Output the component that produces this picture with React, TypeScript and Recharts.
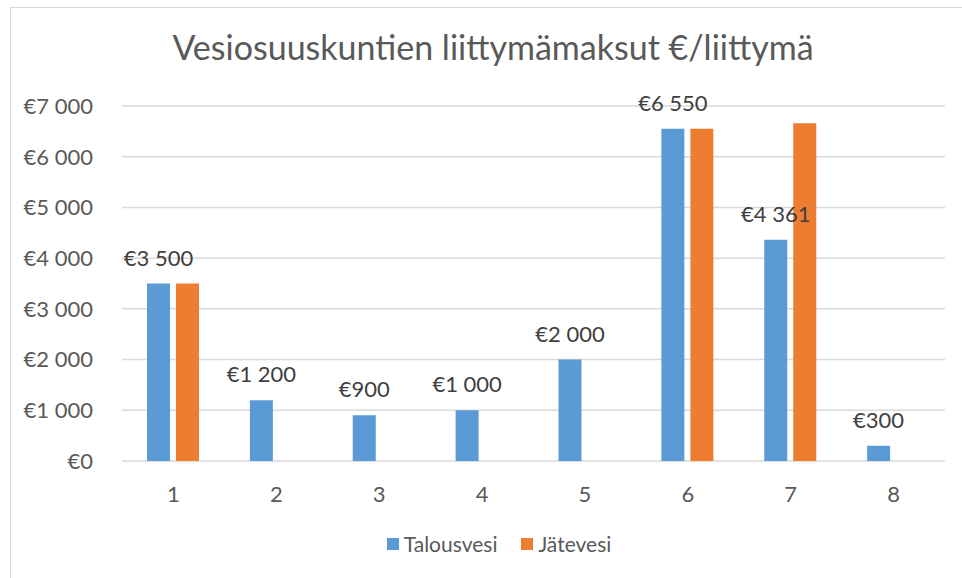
import { BarChart, Bar, XAxis, YAxis, CartesianGrid, LabelList } from 'recharts'

const categories = ['1', '2', '3', '4', '5', '6', '7', '8']
const talousvesi = [3500, 1200, 900, 1000, 2000, 6550, 4361, 300]
const jatevesi = [3500, 0, 0, 0, 0, 6550, 6660, 0]
const yTicks = [0, 1000, 2000, 3000, 4000, 5000, 6000, 7000]

const FONT = 'Lato, "Open Sans", sans-serif'
const TEXT = '#595959'
const BLUE = '#5B9BD5'
const ORANGE = '#ED7D31'

const euro = (v: number) => '€' + String(v).replace(/\B(?=(\d{3})+(?!\d))/g, ' ')

// keep the value labels on one line above the blue bars
const BarValue = (props: any) => {
  const { x, y, width, value } = props
  return (
    <text x={Number(x) + Number(width) / 2} y={Number(y) - 18} textAnchor="middle" fontSize={22} fill="#404040" fontFamily={FONT}>
      {euro(Number(value))}
    </text>
  )
}

export default function App() {
  const data = categories.map((c, i) => ({
    name: c,
    Talousvesi: talousvesi[i],
    Jätevesi: jatevesi[i],
  }))

  return (
    <div style={{ position: 'fixed', left: 0, top: 0, width: 962, height: 578, overflow: 'hidden', background: '#fff', fontFamily: FONT }}>
      <div style={{ position: 'absolute', left: 10, top: 7, width: 1000, height: 700, border: '1.5px solid #d9d9d9' }} />
      <div style={{ position: 'absolute', left: 0, width: 986, top: 27, textAlign: 'center', fontSize: 34, color: TEXT, lineHeight: '40px' }}>
        Vesiosuuskuntien liittymämaksut €/liittymä
      </div>

      <div style={{ position: 'absolute', left: 0, top: 0 }}>
        <BarChart width={962} height={578} data={data} margin={{ top: 106, right: 17, bottom: 0, left: 0 }} barSize={23} barGap={6}>
          <CartesianGrid vertical={false} stroke="#d9d9d9" strokeWidth={1.5} />
          <XAxis
            dataKey="name"
            height={117}
            axisLine={false}
            tickLine={false}
            tickSize={0}
            tickMargin={25}
            tick={{ fontSize: 22, fill: TEXT, fontFamily: FONT }}
          />
          <YAxis
            width={122}
            domain={[0, 7000]}
            ticks={yTicks}
            axisLine={false}
            tickLine={false}
            tickSize={0}
            tickMargin={29}
            tickFormatter={euro}
            tick={{ fontSize: 22, fill: TEXT, fontFamily: FONT }}
          />
          <Bar dataKey="Talousvesi" fill={BLUE} isAnimationActive={false}>
            <LabelList dataKey="Talousvesi" content={BarValue} />
          </Bar>
          <Bar dataKey="Jätevesi" fill={ORANGE} isAnimationActive={false} />
        </BarChart>
      </div>

      <div style={{ position: 'absolute', left: 0, width: 998, top: 531, display: 'flex', justifyContent: 'center', alignItems: 'center', fontSize: 21, color: TEXT, lineHeight: '26px' }}>
        <span style={{ width: 12, height: 12, background: BLUE, marginRight: 5, display: 'inline-block' }} />
        <span style={{ marginRight: 24 }}>Talousvesi</span>
        <span style={{ width: 12, height: 12, background: ORANGE, marginRight: 5, display: 'inline-block' }} />
        <span>Jätevesi</span>
      </div>
    </div>
  )
}
